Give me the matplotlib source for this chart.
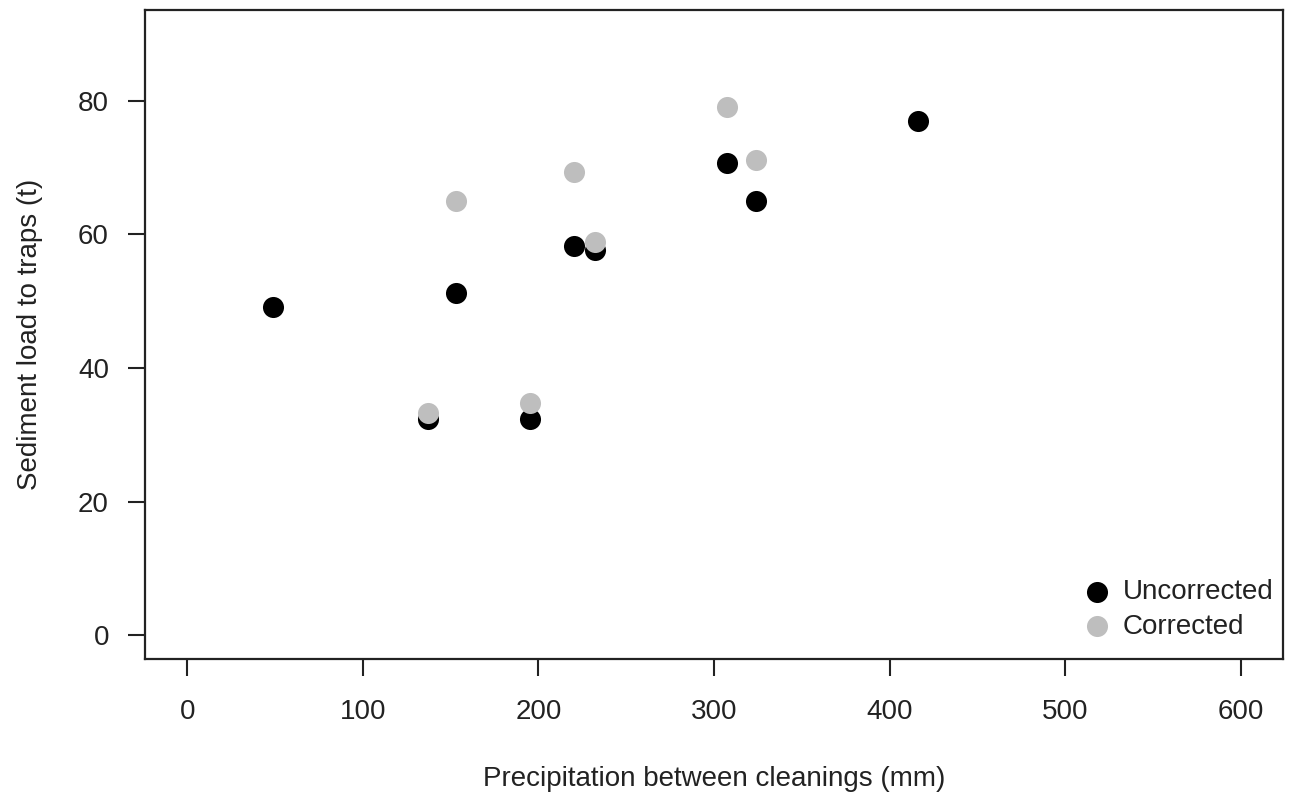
import matplotlib
matplotlib.use('Agg')
import matplotlib.pyplot as plt

# precipitation between cleanings (mm) and sediment load (t)
precip_unc = [49, 137, 153, 195, 220, 232, 307.5, 324, 416]
load_unc = [49.1, 32.3, 51.3, 32.3, 58.3, 57.6, 70.7, 65.0, 77.0]

precip_cor = [137, 153, 195, 220, 232, 307.5, 324]
load_cor = [33.3, 65.0, 34.8, 69.3, 58.8, 79.1, 71.1]

x_ticks = [0, 100, 200, 300, 400, 500, 600]
y_ticks = [0, 20, 40, 60, 80]

plt.rcParams['font.family'] = ['Liberation Sans', 'DejaVu Sans']
txt = '#222222'
fs = 20

fig = plt.figure(figsize=(12.95, 8), dpi=100)
ax = fig.add_axes([0.112, 0.176, 0.8787, 0.8115])

ax.scatter(precip_unc, load_unc, s=230, c='black', lw=0, label='Uncorrected', zorder=3)
ax.scatter(precip_cor, load_cor, s=230, c='#bebebe', lw=0, label='Corrected', zorder=4)

ax.set_xlim(-24, 624)
ax.set_ylim(-3.6, 93.6)
ax.set_xticks(x_ticks)
ax.set_yticks(y_ticks)
ax.tick_params(direction='out', length=12, width=1.5, colors=txt, labelsize=fs)
ax.tick_params(axis='x', pad=17)
ax.tick_params(axis='y', pad=14)
for s in ax.spines.values():
    s.set_linewidth(1.6)
    s.set_color(txt)

ax.set_xlabel('Precipitation between cleanings (mm)', fontsize=fs, color=txt, labelpad=29)
ax.set_ylabel('Sediment load to traps (t)', fontsize=fs, color=txt, labelpad=25)

ax.legend(loc='lower right', bbox_to_anchor=(0.992, 0.03), frameon=False, fontsize=fs,
          handlelength=1.0, handletextpad=0.45, labelspacing=0.3, borderpad=0,
          borderaxespad=0, labelcolor=txt)

fig.savefig('out.png', dpi=100)
